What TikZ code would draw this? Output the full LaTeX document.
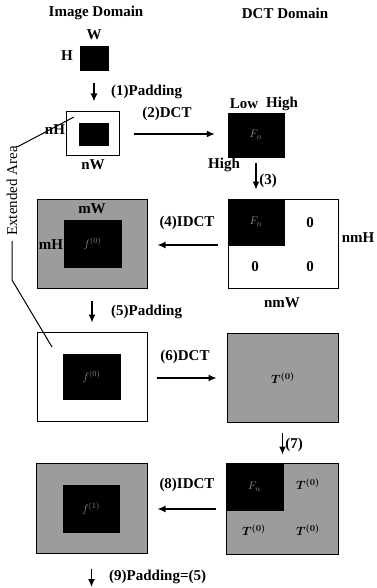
\documentclass[tikz,border=0pt]{standalone}
\usepackage{fontspec}
\setmainfont{Liberation Serif}
\usepackage{tikz}
\usetikzlibrary{positioning,arrows.meta,calc}
\definecolor{dither}{HTML}{9C9C9C}
\definecolor{faint}{HTML}{8A8A8A}

\begin{document}
\begin{tikzpicture}[x=1pt, y=-1pt, >=Latex,
      font=\fontsize{15}{17}\selectfont\bfseries,
      frame/.style={draw, line width=1pt, fill=white, inner sep=0pt},
      grayframe/.style={frame, fill=dither},
      blk/.style={draw, fill=black, inner sep=0pt, text=faint,
                  font=\fontsize{11}{12}\selectfont},
      lbl/.style={inner sep=1pt},
      tlbl/.style={inner sep=0pt, font=\fontsize{13}{14}\selectfont\bfseries\boldmath},
      arr/.style={->, line width=1.3pt, >={Latex[length=8pt,width=7pt]}}]
    \useasboundingbox (0,0) rectangle (376,588);

    % column titles
    \node[lbl] (tImg) at (96,13) {Image Domain};
    \node[lbl] (tDct) at (285,13) {DCT Domain};

    % original block
    \node[blk, minimum width=28pt, minimum height=24pt] (img) at (94,58) {};
    \node[lbl] (w) at (94,35) {W};
    \node[lbl] (h) at (67,56) {H};

    % (1) padding
    \node[frame, minimum width=53pt, minimum height=44pt] (pad1) at (92.5,134) {};
    \node[blk, minimum width=29pt, minimum height=22pt] (pad1in) at (93.5,134) {};
    \node[lbl] (nh) at (55,130) {nH};
    \node[lbl] (nw) at (93,165) {nW};

    % (2) DCT
    \node[blk, minimum width=56pt, minimum height=44pt] (dct1) at (256,135) {$F_n$};
    \node[lbl] (low) at (244,104) {Low};
    \node[lbl] (high1) at (282,104) {High};
    \node[lbl] (high2) at (224,165) {High};

    % (3) zero padding in DCT domain
    \node[frame, minimum width=110pt, minimum height=89pt] (zp) at (283,243.5) {};
    \node[blk, minimum width=56pt, minimum height=46pt] (zpin) at (256,222) {$F_n$};
    \node[lbl] (z1) at (310,223) {0};
    \node[lbl] (z2) at (255,267) {0};
    \node[lbl] (z3) at (310,267) {0};
    \node[lbl] (nmh) at (358,238) {nmH};
    \node[lbl] (nmw) at (282,303) {nmW};

    % (4) IDCT
    \node[grayframe, minimum width=110pt, minimum height=89pt] (idct4) at (92,243.5) {};
    \node[blk, minimum width=57pt, minimum height=47pt] (idct4in) at (92.5,243.5) {$f^{(0)}$};
    \node[lbl] (mw) at (92,209) {mW};
    \node[lbl] (mh) at (51,245) {mH};

    % (5) padding
    \node[frame, minimum width=110pt, minimum height=89pt] (pad5) at (92,376.5) {};
    \node[blk, minimum width=57pt, minimum height=45pt] (pad5in) at (91.5,376.5) {$f^{(0)}$};

    % (6) DCT
    \node[grayframe, minimum width=111pt, minimum height=89pt] (tbox) at (282.5,377.5) {};
    \node[tlbl] (t0) at (283,378) {$T^{(0)}$};

    % (7) replace low band
    \node[grayframe, minimum width=112pt, minimum height=91pt] (rep) at (282,508.5) {};
    \node[blk, minimum width=57pt, minimum height=47pt] (repin) at (254.5,486.5) {$F_n$};
    \node[tlbl] (t1) at (308,484) {$T^{(0)}$};
    \node[tlbl] (t2) at (254,530) {$T^{(0)}$};
    \node[tlbl] (t3) at (308,530) {$T^{(0)}$};

    % (8) IDCT
    \node[grayframe, minimum width=111pt, minimum height=90pt] (idct8) at (91.5,508) {};
    \node[blk, minimum width=56pt, minimum height=47pt] (idct8in) at (91,508.5) {$f^{(1)}$};
    \coordinate (next) at (91.5,587);

    % steps
    \draw[arr, shorten <=13pt, shorten >=10pt] (img.south) -- (img.south |- pad1.north);
    \node[lbl, anchor=west] (s1) at (110,92) {(1)Padding};
    \draw[arr, shorten <=14pt, shorten >=13pt] (pad1.east) -- (pad1.east -| dct1.west);
    \node[lbl] (s2) at (167,114) {(2)DCT};
    \draw[arr, shorten <=6pt, shorten >=9pt] (dct1.south) -- (zp.north -| dct1.south);
    \node[lbl] (s3) at (268,181) {(3)};
    \draw[arr, shorten <=10pt, shorten >=10pt] ([yshift=-1.5pt]zp.west) -- ([yshift=-1.5pt]zp.west -| idct4.east);
    \node[lbl] (s4) at (187,223) {(4)IDCT};
    \draw[arr, shorten <=12pt, shorten >=9pt] (idct4.south) -- (pad5.north);
    \node[lbl, anchor=west] (s5) at (110,312) {(5)Padding};
    \draw[arr, shorten <=9pt, shorten >=10pt] ([yshift=-1.5pt]pad5.east) -- ([yshift=-1.5pt]pad5.east -| tbox.west);
    \node[lbl] (s6) at (185,357) {(6)DCT};
    \draw[arr, shorten <=10pt, shorten >=8pt] (tbox.south) -- (tbox.south |- rep.north);
    \node[lbl] (s7) at (294,445) {(7)};
    \draw[arr, shorten <=10pt, shorten >=10pt] ([yshift=-0.5pt]rep.west) -- ([yshift=-0.5pt]rep.west -| idct8.east);
    \node[lbl] (s8) at (187,485) {(8)IDCT};
    \draw[arr, shorten <=15pt] (idct8.south) -- (next);
    \node[lbl, anchor=west] (s9) at (108,577) {(9)Padding=(5)};

    % extended area callout
    \node[rotate=90, inner sep=0pt, font=\fontsize{15}{17}\selectfont] (ext) at (12,191) {Extended Area};
    \coordinate (extTop) at (74,117);
    \coordinate (extBend) at (11,280);
    \coordinate (extEnd) at (52,347);
    \draw[line width=1pt] ([xshift=5pt,yshift=-1pt]ext.east) -- (extTop);
    \draw[line width=1pt] ([yshift=-5pt]ext.west) -- (ext.west |- extBend) -- (extEnd);
  \end{tikzpicture}
\end{document}
